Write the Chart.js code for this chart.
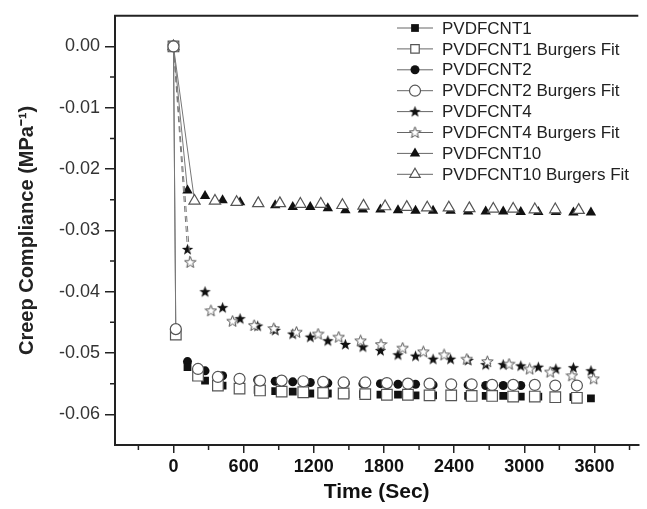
<!DOCTYPE html>
<html>
<head>
<meta charset="utf-8">
<script src="https://cdn.jsdelivr.net/npm/chart.js@4.4.1/dist/chart.umd.min.js"></script>
<style>
  html, body { margin: 0; padding: 0; background: #fff; overflow: hidden; }
  #wrap { width: 647px; height: 509px; }
</style>
</head>
<body>
<div id="wrap"><canvas id="grafico" width="647" height="509"></canvas></div>
<script>
// tempos (s) das medidas experimentais
const expTime = [0, 120, 270, 420, 570, 720, 870, 1020, 1170, 1320, 1470, 1620, 1770, 1920,
  2070, 2220, 2370, 2520, 2670, 2820, 2970, 3120, 3270, 3420, 3570];
const cnt1 = [0, -0.0523, -0.0545, -0.0553, -0.0557, -0.0560, -0.0562, -0.0563, -0.0566, -0.0566,
  -0.0567, -0.0567, -0.0568, -0.0568, -0.0569, -0.0569, -0.0569, -0.0570, -0.0570, -0.0570,
  -0.0571, -0.0571, -0.0572, -0.0572, -0.0574];
const cnt2 = [0, -0.0514, -0.0529, -0.0537, -0.0541, -0.0544, -0.0546, -0.0547, -0.0548, -0.0549,
  -0.0549, -0.0550, -0.0550, -0.0551, -0.0551, -0.0552, -0.0552, -0.0552, -0.0553, -0.0553, -0.0553];
const cnt4 = [0, -0.0331, -0.0400, -0.0426, -0.0444, -0.0456, -0.0463, -0.0469, -0.0474, -0.0480,
  -0.0486, -0.0490, -0.0496, -0.0503, -0.0505, -0.0510, -0.0510, -0.0512, -0.0519, -0.0519,
  -0.0521, -0.0523, -0.0526, -0.0524, -0.0529];
const cnt10 = [0, -0.0235, -0.0244, -0.0251, -0.0254, -0.0256, -0.0259, -0.0262, -0.0262, -0.0264,
  -0.0267, -0.0266, -0.0266, -0.0267, -0.0268, -0.0268, -0.0268, -0.0269, -0.0269, -0.0269,
  -0.0270, -0.0270, -0.0270, -0.0271, -0.0271];

// ajustes de Burgers
const fitTime12 = [0, 20, 210, 380, 565, 740, 925, 1110, 1280, 1455, 1640, 1825, 2005, 2190,
  2375, 2550, 2725, 2905, 3090, 3265, 3450];
const fit1 = [0, -0.0470, -0.0537, -0.0553, -0.0558, -0.0561, -0.0563, -0.0564, -0.0565, -0.0566,
  -0.0567, -0.0568, -0.0568, -0.0569, -0.0569, -0.0570, -0.0570, -0.0571, -0.0571, -0.0572, -0.0573];
const fit2 = [0, -0.0461, -0.0526, -0.0539, -0.0542, -0.0545, -0.0545, -0.0546, -0.0547, -0.0548,
  -0.0548, -0.0549, -0.0550, -0.0550, -0.0551, -0.0551, -0.0552, -0.0552, -0.0552, -0.0553, -0.0553];
const fitTime4 = [0, 143, 320, 505, 690, 858, 1052, 1237, 1413, 1600, 1775, 1960, 2137, 2314,
  2508, 2684, 2870, 3046, 3222, 3408, 3593];
const fit4 = [0, -0.0352, -0.0431, -0.0448, -0.0455, -0.0460, -0.0466, -0.0469, -0.0474, -0.0480,
  -0.0486, -0.0492, -0.0498, -0.0503, -0.0510, -0.0514, -0.0518, -0.0526, -0.0531, -0.0537, -0.0542];
const fitTime10 = [0, 180, 355, 540, 725, 910, 1085, 1260, 1445, 1625, 1810, 1995, 2170, 2355,
  2530, 2735, 2905, 3090, 3265, 3465];
const fit10 = [0, -0.0252, -0.0252, -0.0254, -0.0256, -0.0256, -0.0257, -0.0257, -0.0259, -0.0260,
  -0.0261, -0.0262, -0.0263, -0.0263, -0.0264, -0.0265, -0.0265, -0.0266, -0.0266, -0.0267];

const seriesNames = ['PVDFCNT1', 'PVDFCNT1 Burgers Fit', 'PVDFCNT2', 'PVDFCNT2 Burgers Fit',
  'PVDFCNT4', 'PVDFCNT4 Burgers Fit', 'PVDFCNT10', 'PVDFCNT10 Burgers Fit'];

const xMajor = [0, 600, 1200, 1800, 2400, 3000, 3600];
const xMinor = [-300, 300, 900, 1500, 2100, 2700, 3300, 3900];
const yMajor = [0, -0.01, -0.02, -0.03, -0.04, -0.05, -0.06];
const yMinor = [-0.005, -0.015, -0.025, -0.035, -0.045, -0.055];

function pares(xs, ys) {
  return ys.map((v, i) => ({ x: xs[i], y: v }));
}

function estrela(cheia) {
  const c = document.createElement('canvas');
  c.width = 13; c.height = 13;
  const g = c.getContext('2d');
  g.beginPath();
  for (let i = 0; i < 10; i++) {
    const r = i % 2 === 0 ? 6 : 2.5;
    const a = -Math.PI / 2 + i * Math.PI / 5;
    const px = 6.5 + r * Math.cos(a), py = 6.8 + r * Math.sin(a);
    i === 0 ? g.moveTo(px, py) : g.lineTo(px, py);
  }
  g.closePath();
  if (cheia) { g.fillStyle = '#111'; g.fill(); }
  else { g.fillStyle = '#fff'; g.fill(); g.lineWidth = 1; g.strokeStyle = '#555'; g.stroke(); }
  return c;
}
const starFull = estrela(true);
const starOpen = estrela(false);

function serie(i, dados, estilo, raio, aberto, linha, tracejado, ordem) {
  return {
    label: seriesNames[i],
    data: dados,
    pointStyle: estilo,
    pointRadius: raio,
    pointBorderWidth: aberto ? 1.2 : 0,
    pointBackgroundColor: aberto ? '#fff' : '#111',
    pointBorderColor: aberto ? '#555' : '#111',
    borderWidth: 1,
    borderColor: 'transparent',
    segment: {
      borderColor: c => (linha && c.p0DataIndex === 0) ? '#777' : 'transparent',
      borderDash: c => (tracejado && c.p0DataIndex === 0) ? [6, 4] : undefined,
    },
    showLine: true,
    order: ordem,
  };
}

const datasets = [
  serie(0, pares(expTime, cnt1), 'rect', 5.5, false, false, false, 4),
  serie(1, pares(fitTime12, fit1), 'rect', 7.5, true, true, false, 2),
  serie(2, pares(expTime, cnt2), 'circle', 4.5, false, false, false, 4),
  serie(3, pares(fitTime12, fit2), 'circle', 5.5, true, true, false, 1),
  serie(4, pares(expTime, cnt4), starFull, 6, false, true, true, 4),
  serie(5, pares(fitTime4, fit4), starOpen, 6, true, true, true, 2),
  serie(6, pares(expTime, cnt10), 'triangle', 6, false, true, false, 4),
  serie(7, pares(fitTime10, fit10), 'triangle', 6.5, true, true, false, 2),
];

const extras = {
  id: 'extras',
  afterDraw(chart) {
    const ctx = chart.ctx;
    const x = chart.scales.x, y = chart.scales.y;
    const area = chart.chartArea;
    ctx.save();
    ctx.strokeStyle = '#222';
    ctx.lineWidth = 1.5;
    ctx.beginPath();
    xMinor.forEach(v => {
      const px = x.getPixelForValue(v);
      ctx.moveTo(px, area.bottom); ctx.lineTo(px, area.bottom + 5);
    });
    yMinor.forEach(v => {
      const py = y.getPixelForValue(v);
      ctx.moveTo(area.left, py); ctx.lineTo(area.left - 5, py);
    });
    ctx.stroke();
    // moldura superior
    ctx.lineWidth = 2;
    ctx.beginPath();
    ctx.moveTo(area.left - 1, area.top);
    ctx.lineTo(area.right, area.top);
    ctx.stroke();

    // legenda
    ctx.font = '17px "Liberation Sans", Arial, sans-serif';
    ctx.textBaseline = 'middle';
    datasets.forEach((ds, i) => {
      const ly = 28 + i * 20.9;
      ctx.strokeStyle = '#666';
      ctx.lineWidth = 1;
      ctx.beginPath();
      ctx.moveTo(397, ly); ctx.lineTo(433, ly);
      ctx.stroke();
      ctx.fillStyle = ds.pointBackgroundColor;
      ctx.strokeStyle = ds.pointBorderColor;
      ctx.lineWidth = ds.pointBorderWidth;
      const r = typeof ds.pointStyle === 'string' ? Math.min(ds.pointRadius, 6) : ds.pointRadius;
      Chart.helpers.drawPoint(ctx, { pointStyle: ds.pointStyle, radius: r, rotation: 0, borderWidth: ds.pointBorderWidth }, 415, ly);
      ctx.fillStyle = '#222';
      ctx.fillText(ds.label, 442, ly + 1);
    });
    ctx.restore();
  }
};

function configurar() {
  const canvas = document.getElementById('grafico');
  new Chart(canvas, {
    type: 'scatter',
    data: { datasets },
    options: {
      responsive: false,
      animation: false,
      layout: { padding: { top: 13, right: 0, left: 0, bottom: 0 } },
      plugins: {
        legend: { display: false },
        tooltip: { enabled: false },
      },
      scales: {
        x: {
          type: 'linear',
          min: -500,
          max: 3975,
          afterBuildTicks: s => { s.ticks = xMajor.map(v => ({ value: v })); },
          afterFit: s => { s.height = 64; },
          border: { color: '#222', width: 2 },
          grid: { drawOnChartArea: false, tickLength: 8, tickColor: '#222', lineWidth: 1.5 },
          ticks: {
            color: '#111',
            padding: 3,
            maxRotation: 0,
            font: { family: '"Liberation Sans", Arial, sans-serif', size: 18, weight: 'bold' },
            callback: v => String(v),
          },
          title: {
            display: true,
            text: 'Time (Sec)',
            color: '#111',
            font: { family: '"Liberation Sans", Arial, sans-serif', size: 21, weight: 'bold' },
            padding: { top: 0, bottom: 4 },
          },
        },
        y: {
          type: 'linear',
          min: -0.065,
          max: 0.005,
          afterBuildTicks: s => { s.ticks = yMajor.map(v => ({ value: v })); },
          afterFit: s => { s.width = 115; },
          border: { color: '#222', width: 2 },
          grid: { drawOnChartArea: false, tickLength: 10, tickColor: '#222', lineWidth: 1.5 },
          ticks: {
            color: '#333',
            padding: 5,
            font: { family: '"Liberation Sans", Arial, sans-serif', size: 18 },
            callback: v => v.toFixed(2),
          },
          title: {
            display: true,
            text: 'Creep Compliance (MPa⁻¹)',
            color: '#222',
            font: { family: '"Liberation Sans", Arial, sans-serif', size: 20, weight: 'bold' },
            padding: { top: 15, bottom: 0 },
          },
        },
      },
    },
    plugins: [extras],
  });
}

document.addEventListener('DOMContentLoaded', configurar);
</script>
</body>
</html>
